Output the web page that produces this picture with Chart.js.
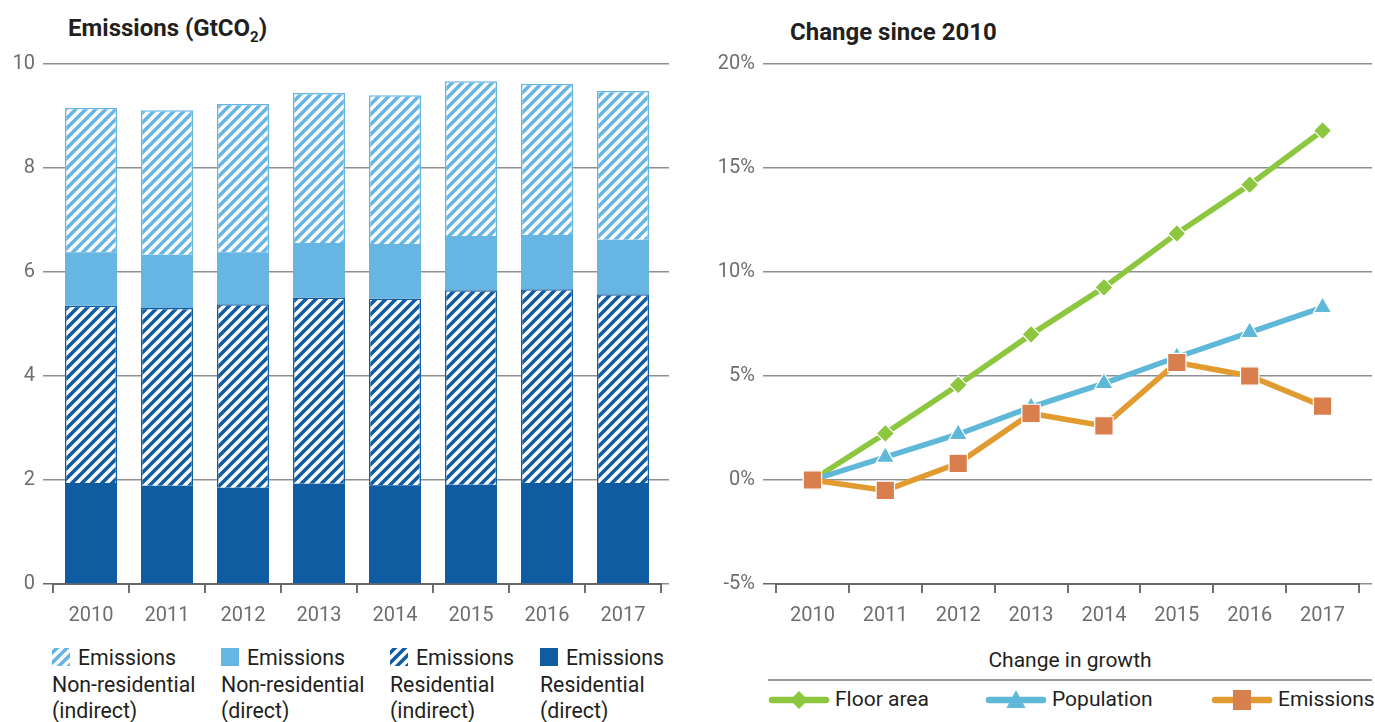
<!DOCTYPE html>
<html><head><meta charset="utf-8">
<script src="https://cdn.jsdelivr.net/npm/chart.js@4.4.0/dist/chart.umd.min.js"></script>
<style>
html,body{margin:0;padding:0;background:#fff;width:1375px;height:722px;overflow:hidden;font-family:Roboto,sans-serif;color:#231f20;}
.abs{position:absolute;}
.title{font-weight:bold;font-size:24px;white-space:nowrap;}
.leg{position:absolute;font-size:21.3px;line-height:26.5px;white-space:nowrap;}
.leg canvas{vertical-align:middle;position:relative;top:-2px;margin-right:8px;}
.rleg{position:absolute;font-size:21px;white-space:nowrap;}
</style></head><body>
<div class="abs title" style="left:68px;top:14px">Emissions (GtCO<span style="font-size:15px;position:relative;top:6px">2</span>)</div>
<div class="abs title" style="left:790px;top:18px">Change since 2010</div>
<canvas id="c1" class="abs" style="left:0;top:0" width="690" height="640"></canvas>
<canvas id="c2" class="abs" style="left:690px;top:0" width="685" height="640"></canvas>
<div id="legL"></div>
<div class="rleg" style="left:768px;width:604px;top:648px;text-align:center">Change in growth</div>
<div class="abs" style="left:768px;top:679px;width:604px;height:2px;background:#9a9a9a"></div>
<div id="legR"></div>
<script>
// ---- data ----
const years = ['2010','2011','2012','2013','2014','2015','2016','2017'];
const resDirect      = [1.94, 1.89, 1.85, 1.93, 1.90, 1.91, 1.94, 1.94];
const resIndirect    = [3.41, 3.42, 3.53, 3.58, 3.59, 3.74, 3.73, 3.63];
const nonResDirect   = [1.03, 1.02, 1.00, 1.05, 1.05, 1.04, 1.04, 1.05];
const nonResIndirect = [2.78, 2.78, 2.85, 2.88, 2.86, 2.98, 2.91, 2.86];
const floorArea      = [0, 2.24, 4.57, 7.0, 9.26, 11.85, 14.2, 16.8];
const population     = [0, 1.1, 2.2, 3.5, 4.65, 5.9, 7.1, 8.3];
const emissionsChg   = [0, -0.5, 0.8, 3.2, 2.6, 5.65, 5.0, 3.55];
const leftLegendLabels = [['Emissions','Non-residential','(indirect)'],['Emissions','Non-residential','(direct)'],['Emissions','Residential','(indirect)'],['Emissions','Residential','(direct)']];
const rightLegendLabels = ['Floor area','Population','Emissions'];

const DARK='#105ca2', LIGHT='#67b5e3';
const GREEN='#8dc63f', CYAN='#5fb8d8', ORANGE='#e29b30', TERRA='#d97f4e';
const GRID='#8f8f8f', TXT='#6d6e71';

function makeHatch(color){
  const s=10; const c=document.createElement('canvas'); c.width=s; c.height=s;
  const x=c.getContext('2d'); x.fillStyle=color; x.fillRect(0,0,s,s);
  x.strokeStyle='#fff'; x.lineWidth=3.5;
  x.beginPath();
  x.moveTo(-1,s+1); x.lineTo(s+1,-1);
  x.moveTo(-s/2-1,s/2+1); x.lineTo(s/2+1,-s/2-1);
  x.moveTo(s/2-1,s*1.5+1); x.lineTo(s*1.5+1,s/2-1);
  x.stroke();
  return x.createPattern(c,'repeat');
}
const patLight=makeHatch(LIGHT), patDark=makeHatch(DARK);

Chart.defaults.font.family='Roboto';
const tickFont={size:20,family:'Roboto'};

new Chart(document.getElementById('c1'),{
  type:'bar',
  data:{labels:years,datasets:[
    {label:'Residential (direct)',data:resDirect,backgroundColor:DARK,borderWidth:0},
    {label:'Residential (indirect)',data:resIndirect,backgroundColor:patDark,borderColor:DARK,borderWidth:1.5},
    {label:'Non-residential (direct)',data:nonResDirect,backgroundColor:LIGHT,borderWidth:0},
    {label:'Non-residential (indirect)',data:nonResIndirect,backgroundColor:patLight,borderColor:LIGHT,borderWidth:1.5}
  ]},
  options:{
    responsive:false,animation:false,devicePixelRatio:1,
    layout:{padding:{top:64,left:0,right:21,bottom:0}},
    plugins:{legend:{display:false},tooltip:{enabled:false}},
    datasets:{bar:{categoryPercentage:1,barPercentage:0.684}},
    scales:{
      x:{stacked:true,offset:true,
         grid:{offset:true,drawOnChartArea:false,drawTicks:true,tickLength:9,color:TXT,lineWidth:2},
         border:{display:true,color:'#666',width:2},
         ticks:{color:TXT,font:tickFont,padding:11},
         afterFit:s=>{s.height=56;}},
      y:{stacked:true,min:0,max:10,
         ticks:{stepSize:2,color:TXT,font:tickFont,padding:8},
         grid:{color:c=>c.tick&&c.tick.value===0?'#666':GRID,lineWidth:1.5,tickLength:10,drawTicks:true},
         border:{display:false},
         afterFit:s=>{s.width=53;}},
      y2:{position:'right',min:0,max:10,
         ticks:{display:false,stepSize:2},
         grid:{drawOnChartArea:false,tickLength:8,color:GRID,lineWidth:1.5},
         border:{display:false},
         afterFit:s=>{s.width=8;}}
    }
  }
});

new Chart(document.getElementById('c2'),{
  type:'line',
  data:{labels:years,datasets:[
    {label:'Floor area',data:floorArea,borderColor:GREEN,backgroundColor:GREEN,borderWidth:5.5,pointStyle:'rectRot',pointRadius:9,pointBorderColor:'#fff',pointBorderWidth:1.2,order:3},
    {label:'Population',data:population,borderColor:CYAN,backgroundColor:CYAN,borderWidth:5.5,pointStyle:'triangle',pointRadius:10.5,pointBorderColor:'#fff',pointBorderWidth:1.2,order:2},
    {label:'Emissions',data:emissionsChg,borderColor:ORANGE,backgroundColor:TERRA,borderWidth:5.5,pointStyle:'rect',pointRadius:13,pointBorderColor:'#fff',pointBorderWidth:1.2,order:1}
  ]},
  options:{
    responsive:false,animation:false,devicePixelRatio:1,
    layout:{padding:{top:64,left:0,right:3,bottom:0}},
    plugins:{legend:{display:false},tooltip:{enabled:false}},
    scales:{
      x:{offset:true,
         grid:{offset:true,drawOnChartArea:false,drawTicks:true,tickLength:9,color:TXT,lineWidth:2},
         border:{display:true,color:'#666',width:2},
         ticks:{color:TXT,font:tickFont,padding:11},
         afterFit:s=>{s.height=56;}},
      y:{min:-5,max:20,
         ticks:{stepSize:5,color:TXT,font:tickFont,padding:8,callback:v=>v+'%'},
         grid:{color:c=>c.tick&&c.tick.value===-5?'#666':GRID,lineWidth:1.5,tickLength:13,drawTicks:true},
         border:{display:false},
         afterFit:s=>{s.width=86;}},
      y2:{position:'right',min:-5,max:20,
         ticks:{display:false,stepSize:5},
         grid:{drawOnChartArea:false,tickLength:13,color:GRID,lineWidth:1.5},
         border:{display:false},
         afterFit:s=>{s.width=13;}}
    }
  }
});

// ---- left legend (HTML) ----
const legL=document.getElementById('legL');
const lx=[52,221,390,540];
const fills=[patLight,LIGHT,patDark,DARK];
leftLegendLabels.forEach((lines,i)=>{
  const d=document.createElement('div'); d.className='leg';
  d.style.left=lx[i]+'px'; d.style.top='645px';
  const cv=document.createElement('canvas'); cv.width=18; cv.height=18;
  const g=cv.getContext('2d'); g.fillStyle=fills[i]; g.fillRect(0,0,18,18);
  d.appendChild(cv);
  d.appendChild(document.createTextNode(lines[0]));
  for(let k=1;k<lines.length;k++){d.appendChild(document.createElement('br'));d.appendChild(document.createTextNode(lines[k]));}
  legL.appendChild(d);
});

// ---- right legend (HTML) ----
const legR=document.getElementById('legR');
const rx=[767,984,1210];
const rcol=[[GREEN,GREEN,'d'],[CYAN,CYAN,'t'],[ORANGE,TERRA,'s']];
rightLegendLabels.forEach((t,i)=>{
  const cv=document.createElement('canvas'); cv.width=64; cv.height=26;
  cv.className='abs'; cv.style.left=rx[i]+'px'; cv.style.top='687px';
  const g=cv.getContext('2d');
  g.strokeStyle=rcol[i][0]; g.lineWidth=6.5; g.lineCap='round';
  g.beginPath(); g.moveTo(5,13); g.lineTo(59,13); g.stroke();
  g.fillStyle=rcol[i][1];
  g.beginPath();
  if(rcol[i][2]==='d'){g.moveTo(32,4);g.lineTo(41,13);g.lineTo(32,22);g.lineTo(23,13);}
  else if(rcol[i][2]==='t'){g.moveTo(32,3);g.lineTo(41.5,21);g.lineTo(22.5,21);}
  else {g.rect(23,3,18,20);}
  g.closePath(); g.fill();
  document.body.appendChild(cv);
  const d=document.createElement('div'); d.className='rleg';
  d.style.left=(rx[i]+68)+'px'; d.style.top='687px'; d.textContent=t;
  legR.appendChild(d);
});
</script>
</body></html>
